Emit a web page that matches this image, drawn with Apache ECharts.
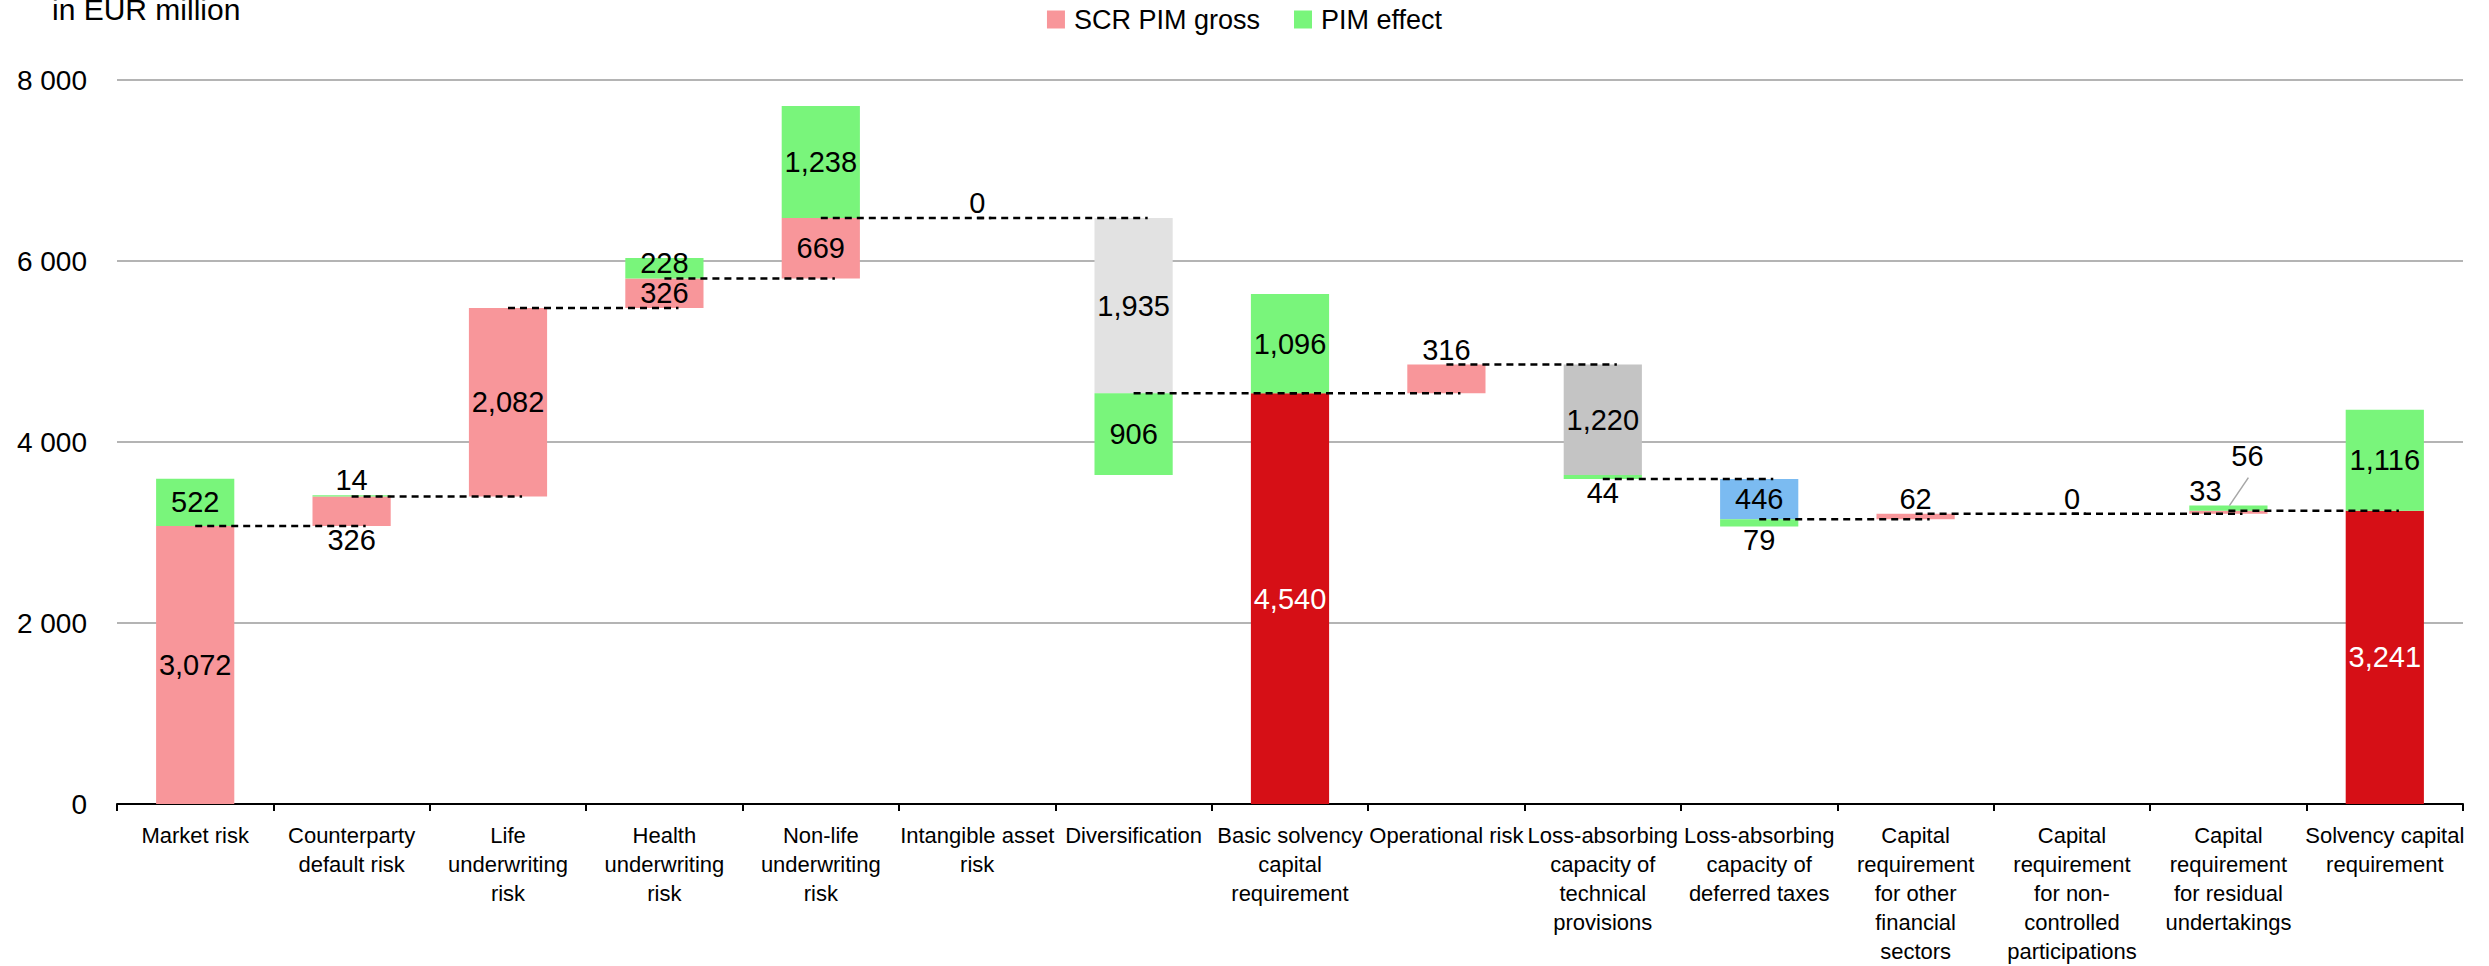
<!DOCTYPE html>
<html><head><meta charset="utf-8">
<script src="https://cdn.jsdelivr.net/npm/echarts@6/dist/echarts.min.js"></script>
<style>html,body{margin:0;padding:0;background:#fff}#c{width:2489px;height:966px}</style>
</head><body><div id="c"></div>
<script>
// ---------- data ----------
const categories = [
  "Market risk",
  "Counterparty\ndefault risk",
  "Life\nunderwriting\nrisk",
  "Health\nunderwriting\nrisk",
  "Non-life\nunderwriting\nrisk",
  "Intangible asset\nrisk",
  "Diversification",
  "Basic solvency\ncapital\nrequirement",
  "Operational risk",
  "Loss-absorbing\ncapacity of\ntechnical\nprovisions",
  "Loss-absorbing\ncapacity of\ndeferred taxes",
  "Capital\nrequirement\nfor other\nfinancial\nsectors",
  "Capital\nrequirement\nfor non-\ncontrolled\nparticipations",
  "Capital\nrequirement\nfor residual\nundertakings",
  "Solvency capital\nrequirement"
];
// SCR PIM gross step per column (signed) and where each step starts
const grossValues = [3072, 326, 2082, 326, 669, 0, -1935, 4540, 316, -1220, -446, 62, 0, 33, 3241];
const grossStarts = [0, 3072, 3398, 5480, 5806, 6475, 6475, 0, 4540, 4856, 3592, 3146, 3208, 3208, 0];
// PIM effect per column (signed, stacked on the end of the gross step)
const pimValues = [522, 14, null, 228, 1238, null, -906, 1096, null, -44, -79, null, null, 56, 1116];
// level of the dashed connector leaving each column
const connectorLevels = [3072, 3398, 5480, 5806, 6475, 6475, 4540, 4540, 4856, 3592, 3146, 3208, 3208, 3241];
// kind of each gross bar
const grossKinds = ["risk","risk","risk","risk","risk","risk","diversification","total","risk","techprov","deftax","risk","risk","risk","total"];
const yTicks = [0, 2000, 4000, 6000, 8000];

// ---------- styles ----------
const colors = {
  risk: "#F8969A", total: "#D60F16", diversification: "#E2E2E2",
  techprov: "#C4C4C4", deftax: "#7BBBF1", pim: "#79F57B"
};
const FONT = "'Liberation Sans',Arial,sans-serif";
const LABEL_SIZE = 29;
const grossLabelPos = {1: "bottom", 5: "top", 8: "top", 11: "top", 12: "top", 13: "topLeft"};
const pimLabelPos = {1: "top", 9: "bottom", 10: "bottom", 13: "leader"};
const pimLabelShift = {3: -5};

const fmt = v => Math.abs(v).toLocaleString("en-US");

const grossData = categories.map((c, i) => [i, grossStarts[i], grossStarts[i] + grossValues[i], grossValues[i]]);
const pimData = [];
pimValues.forEach((v, i) => {
  if (v === null) return;
  const s = grossStarts[i] + grossValues[i];
  pimData.push([i, s, s + v, v]);
});
const connData = connectorLevels.map((l, i) => [i, l]);

function makeBar(api, fill, labelText, labelColor, pos, shift) {
  const i = api.value(0), lo = api.value(1), hi = api.value(2);
  const p0 = api.coord([i, lo]), p1 = api.coord([i, hi]);
  const bw = api.size([1, 0])[0] * 0.5;
  const y = Math.min(p0[1], p1[1]), h = Math.abs(p0[1] - p1[1]);
  const rect = {
    type: "rect",
    shape: {x: p0[0] - bw / 2, y: y, width: bw, height: h},
    style: {fill: fill}
  };
  const children = [rect];
  const txtStyle = {text: labelText, fill: labelColor, fontSize: LABEL_SIZE, fontFamily: FONT,
                    align: "center", verticalAlign: "middle"};
  const cx = p0[0];
  let tx = cx, ty = y + h / 2 + (shift || 0);
  if (pos === "top") ty = y - 15;
  else if (pos === "bottom") ty = y + h + 14;
  else if (pos === "topLeft") { tx = cx - 23; ty = y - 20; }
  else if (pos === "leader") {
    tx = cx + 19; ty = y - 50;
    children.push({type: "line", shape: {x1: cx + 1, y1: y, x2: cx + 20, y2: y - 28},
                   style: {stroke: "#A6A6A6", lineWidth: 1.5}, z2: 5});
  }
  children.push({type: "text", x: tx, y: ty, style: txtStyle, z2: 10});
  return {type: "group", children: children};
}

const chart = echarts.init(document.getElementById("c"), null, {renderer: "svg"});
chart.setOption({
  animation: false,
  backgroundColor: "#fff",
  title: {
    text: "in EUR million", left: 52, top: -6, padding: 0,
    textStyle: {fontFamily: FONT, fontSize: 30, fontWeight: "normal", color: "#000"}
  },
  legend: {
    data: ["SCR PIM gross", "PIM effect"],
    left: "center", top: 6, padding: 0,
    icon: "rect", itemWidth: 18, itemHeight: 18, itemGap: 34,
    textStyle: {fontFamily: FONT, fontSize: 27, color: "#000", padding: [0, 0, 0, 4]}
  },
  grid: {left: 117, right: 26, top: 80, bottom: 159},
  xAxis: {
    type: "category", data: categories,
    axisLine: {lineStyle: {color: "#000", width: 2}},
    axisTick: {show: true, interval: 0, length: 7, lineStyle: {color: "#000", width: 2}},
    axisLabel: {interval: 0, fontFamily: FONT, fontSize: 22, lineHeight: 29, color: "#000", margin: 17}
  },
  yAxis: {
    type: "value", min: yTicks[0], max: yTicks[yTicks.length - 1], interval: yTicks[1] - yTicks[0],
    axisLine: {show: false}, axisTick: {show: false},
    splitLine: {lineStyle: {color: "#B4B4B4", width: 2}},
    axisLabel: {fontFamily: FONT, fontSize: 28, color: "#000", margin: 30,
      formatter: v => String(v).replace(/\B(?=(\d{3})+(?!\d))/g, " ")}
  },
  series: [
    {
      name: "SCR PIM gross", type: "custom", data: grossData, itemStyle: {color: colors.risk},
      encode: {x: 0, y: [1, 2]}, z: 2,
      renderItem: (params, api) => {
        const i = api.value(0);
        const kind = grossKinds[i];
        return makeBar(api, colors[kind], fmt(api.value(3)), kind === "total" ? "#fff" : "#000", grossLabelPos[i] || "inside", 0);
      }
    },
    {
      name: "PIM effect", type: "custom", data: pimData, itemStyle: {color: colors.pim},
      encode: {x: 0, y: [1, 2]}, z: 2,
      renderItem: (params, api) => {
        const i = api.value(0);
        return makeBar(api, colors.pim, fmt(api.value(3)), "#000", pimLabelPos[i] || "inside", pimLabelShift[i]);
      }
    },
    {
      name: "connectors", type: "custom", data: connData, encode: {x: 0, y: 1}, z: 5,
      silent: true,
      renderItem: (params, api) => {
        const i = api.value(0), lvl = api.value(1);
        const a = api.coord([i, lvl]), b = api.coord([i + 1, lvl]);
        const over = api.size([1, 0])[0] * 0.09;
        return {type: "line", shape: {x1: a[0], y1: a[1], x2: b[0] + over, y2: b[1]},
                style: {stroke: "#000", lineWidth: 2.5, lineDash: [7, 5]}};
      }
    }
  ]
});
</script>
</body></html>
